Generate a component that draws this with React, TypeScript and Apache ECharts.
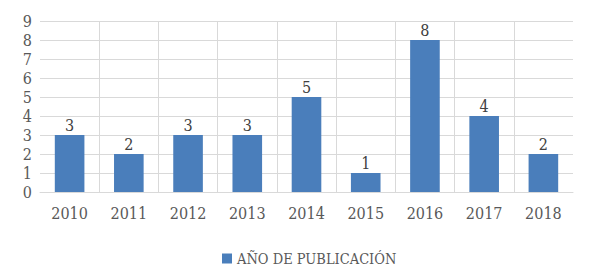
import React, { useEffect, useRef } from "react";
import * as echarts from "echarts";

const categories = ["2010", "2011", "2012", "2013", "2014", "2015", "2016", "2017", "2018"];
const values = [3, 2, 3, 3, 5, 1, 8, 4, 2];
const seriesName = "AÑO DE PUBLICACIÓN";

const FONT = "DejaVu Serif Condensed";

export default function App() {
  const ref = useRef<HTMLDivElement>(null);
  useEffect(() => {
    if (!ref.current) return;
    const chart = echarts.init(ref.current, null, { renderer: "svg" });
    chart.setOption({
      animation: false,
      textStyle: { fontFamily: FONT },
      grid: { left: 32, right: 19, top: 13, bottom: 85, containLabel: false },
      legend: {
        top: 238,
        left: 209,
        itemWidth: 10,
        itemHeight: 10,
        itemGap: 4,
        icon: "rect",
        textStyle: { fontFamily: FONT, fontSize: 14.5, color: "#595959" },
        data: [seriesName],
      },
      xAxis: {
        type: "category",
        data: categories,
        axisLine: { show: true, lineStyle: { color: "#d9d9d9", width: 1 } },
        axisTick: { show: false },
        axisLabel: { fontFamily: FONT, fontSize: 16, color: "#595959", margin: 13 },
        splitLine: { show: true, showMinLine: false, showMaxLine: false, lineStyle: { color: "#d9d9d9", width: 1 } },
      },
      yAxis: {
        type: "value",
        min: 0,
        max: 9,
        interval: 1,
        axisLine: { show: false },
        axisTick: { show: false },
        axisLabel: { fontFamily: FONT, fontSize: 16, color: "#595959", margin: 8 },
        splitLine: { show: true, lineStyle: { color: "#d9d9d9", width: 1 } },
      },
      series: [
        {
          name: seriesName,
          type: "bar",
          data: values,
          barWidth: "50%",
          itemStyle: { color: "#4a7ebb" },
          label: {
            show: true,
            position: "top",
            distance: 2,
            fontFamily: FONT,
            fontSize: 16,
            color: "#404040",
          },
        },
      ],
    });
    return () => chart.dispose();
  }, []);
  return <div ref={ref} style={{ width: 584, height: 269 }} />;
}
